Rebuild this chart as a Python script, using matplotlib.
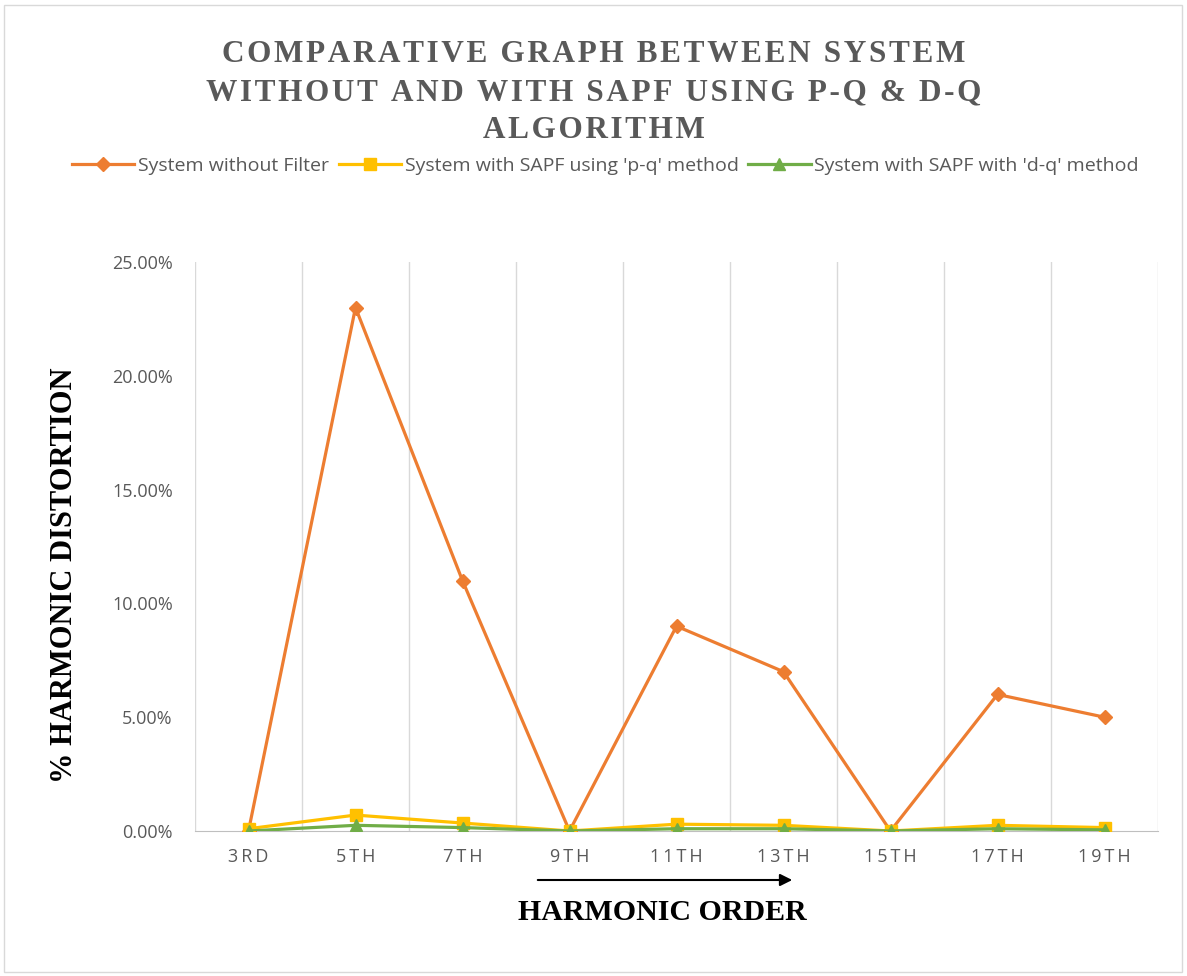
import numpy as np
import matplotlib.pyplot as plt
from matplotlib.ticker import PercentFormatter

# Harmonic orders and % distortion for each configuration
orders = ["3RD", "5TH", "7TH", "9TH", "11TH", "13TH", "15TH", "17TH", "19TH"]
without_filter = [0.0, 23.0, 11.0, 0.0, 9.0, 7.0, 0.0, 6.0, 5.0]
sapf_pq = [0.1, 0.7, 0.35, 0.0, 0.3, 0.25, 0.0, 0.25, 0.15]
sapf_dq = [0.0, 0.25, 0.15, 0.0, 0.1, 0.1, 0.0, 0.1, 0.05]

series_labels = [
    "System without Filter",
    "System with SAPF using 'p-q' method",
    "System with SAPF with 'd-q' method",
]
title_lines = [
    "COMPARATIVE GRAPH BETWEEN SYSTEM",
    "WITHOUT AND WITH SAPF USING P-Q & D-Q",
    "ALGORITHM",
]

fig = plt.figure(figsize=(11.87, 9.76), dpi=100)
ax = fig.add_axes([195 / 1187, 1 - 831 / 976, (1158 - 195) / 1187, (831 - 262) / 976])

x = np.arange(len(orders))
ax.plot(x, without_filter, color="#ED7D31", lw=2.3, marker="D", ms=7,
        label=series_labels[0], zorder=3)
ax.plot(x, sapf_pq, color="#FFC000", lw=2.3, marker="s", ms=8,
        label=series_labels[1], zorder=4)
ax.plot(x, sapf_dq, color="#70AD47", lw=2.3, marker="^", ms=9,
        label=series_labels[2], zorder=5)

ax.set_xlim(-0.5, len(orders) - 0.5)
ax.set_ylim(0, 25)
ax.set_yticks(np.arange(0, 26, 5))
ax.yaxis.set_major_formatter(PercentFormatter(decimals=2))
ax.set_xticks(x)
ax.set_xticklabels(["\u2009".join(o) for o in orders])

# vertical gridlines sit between categories
for b in np.arange(-0.5, len(orders), 1.0):
    ax.axvline(b, color="#D9D9D9", lw=1, zorder=1)

for side in ["top", "right", "left"]:
    ax.spines[side].set_visible(False)
ax.spines["bottom"].set_color("#BFBFBF")
ax.tick_params(axis="both", length=0, colors="#595959", labelsize=13)
ax.tick_params(axis="x", pad=12)
ax.tick_params(axis="y", pad=16)
for lbl in ax.get_xticklabels() + ax.get_yticklabels():
    lbl.set_fontfamily("Open Sans")

# spaced-out serif title (hair spaces between letters)
title_y = [55, 93, 131]
for line, yy in zip(title_lines, title_y):
    fig.text(0.5, 1 - yy / 976, "\u200a".join(line),
             ha="center", va="center", fontsize=22.5, fontweight="bold",
             family=["Liberation Serif", "DejaVu Serif"], color="#595959")

leg = fig.legend(loc="center", bbox_to_anchor=(0.51, 1 - 166 / 976), ncol=3,
                 frameon=False, handlelength=3.2, columnspacing=0.5,
                 handletextpad=0.2, markerscale=1.0,
                 prop={"family": "Open Sans", "size": 14})
for t in leg.get_texts():
    t.set_color("#595959")

fig.text(65 / 1187, 1 - 575 / 976, "% HARMONIC DISTORTION", rotation=90,
         ha="center", va="center", fontsize=22, fontweight="bold",
         family="Liberation Serif", color="black")
fig.text(662 / 1187, 1 - 912 / 976, "HARMONIC ORDER", ha="center", va="center",
         fontsize=21.5, fontweight="bold", family="Liberation Serif", color="black")
fig.add_artist(plt.Annotation("", xy=(795 / 1187, 1 - 880 / 976),
                              xytext=(535 / 1187, 1 - 880 / 976),
                              xycoords="figure fraction",
                              arrowprops=dict(arrowstyle="-|>", color="black",
                                              lw=1.5, mutation_scale=18)))

# light outer border
fig.add_artist(plt.Rectangle((4 / 1187, 4 / 976), 1 - 9 / 1187, 1 - 9 / 976,
                             transform=fig.transFigure, fill=False,
                             edgecolor="#D9D9D9", lw=1))

fig.savefig("out.png", dpi=100)
